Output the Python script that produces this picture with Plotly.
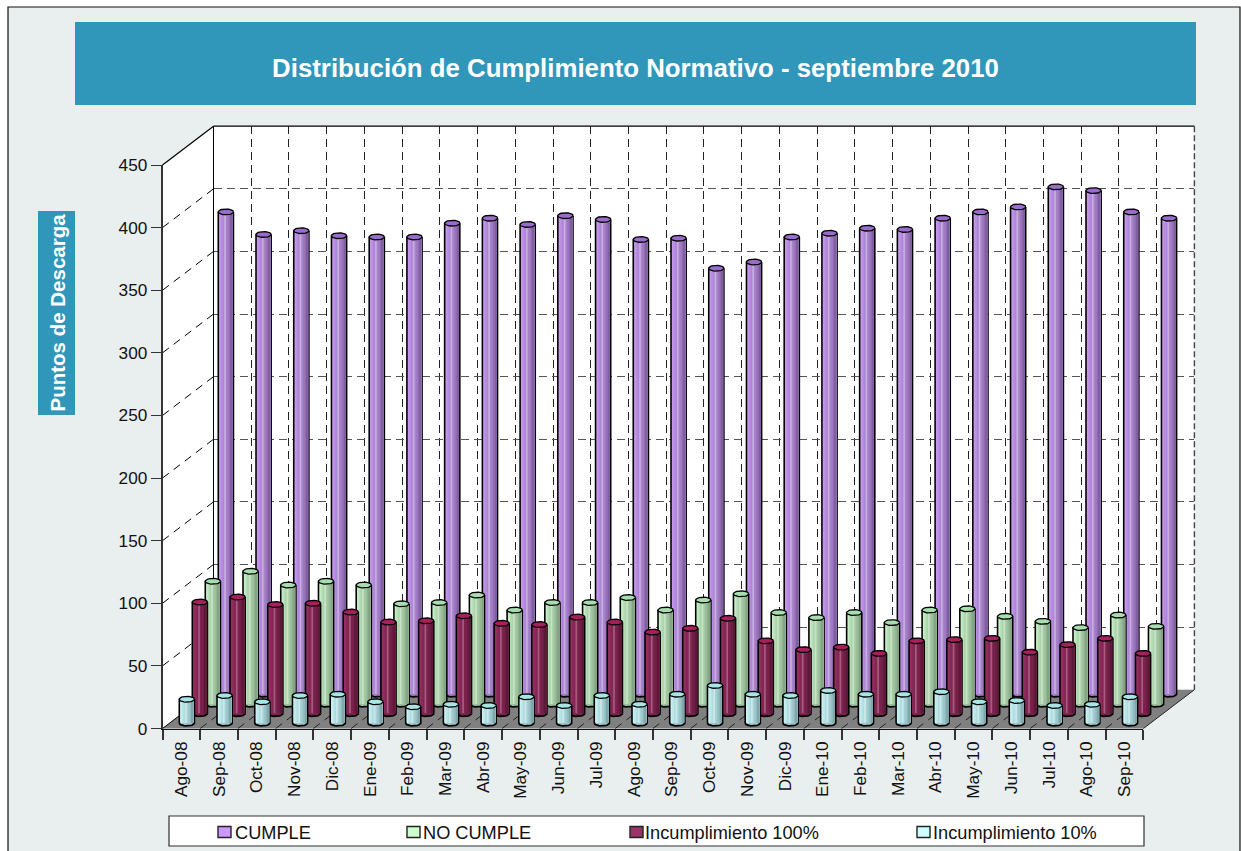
import numpy as np
import plotly.graph_objects as go

TITLE = "Distribución de Cumplimiento Normativo - septiembre 2010"
Y_TITLE = "Puntos de Descarga"
MONTHS = ["Ago-08", "Sep-08", "Oct-08", "Nov-08", "Dic-08", "Ene-09", "Feb-09", "Mar-09", "Abr-09",
          "May-09", "Jun-09", "Jul-09", "Ago-09", "Sep-09", "Oct-09", "Nov-09", "Dic-09", "Ene-10",
          "Feb-10", "Mar-10", "Abr-10", "May-10", "Jun-10", "Jul-10", "Ago-10", "Sep-10"]
CUMPLE = [385, 367, 370, 366, 365, 365, 376, 380, 375, 382, 379, 363, 364,
          340, 345, 365, 368, 372, 371, 380, 385, 389, 405, 402, 385, 380]
NO_CUMPLE = [98, 106, 95, 98, 95, 80, 81, 87, 75, 81, 81, 85, 75,
             83, 88, 73, 69, 73, 65, 75, 76, 70, 66, 61, 71, 62]
INC_100 = [89, 93, 87, 88, 81, 73, 74, 78, 72, 71, 77, 73, 65,
           68, 76, 58, 51, 53, 48, 58, 59, 60, 49, 55, 60, 48]
INC_10 = [19, 22, 17, 22, 23, 17, 13, 15, 14, 21, 14, 22, 15,
          23, 30, 23, 22, 26, 23, 23, 25, 17, 18, 14, 15, 21]

W, H = 1241, 851
BLUE = "#3097bb"
PANEL = "#e9eeee"


def px(x):
    return x / W


def py(y):
    return 1 - y / H


# plane geometry in pixels
FX0, FX1, FY0, FY1 = 162.5, 1143.4, 728.5, 165.0
DEPTH_X, DEPTH_Y = 51.0, 38.8
YMAX = 450
SCALE = (FY0 - FY1) / YMAX
PAD = 4  # axis units kept below zero so the rounded feet stay inside the plot area

SERIES = [
    dict(name="CUMPLE", vals=CUMPLE, dx=44.5, base=694.0, swatch="#cc99ff", top="#9a6ccc",
         strips=["#c496ec", "#b98ee2", "#ae86d6", "#c6aede", "#a982cc", "#9e78c0", "#8f6cb0", "#80609f"]),
    dict(name="NO CUMPLE", vals=NO_CUMPLE, dx=31.5, base=704.0, swatch="#ccffcc", top="#a6deae",
         strips=["#c6eec6", "#b8e0b8", "#acd4ac", "#c8e2c8", "#a4cba4", "#9cc09c", "#90b290", "#84a484"]),
    dict(name="Incumplimiento 100%", vals=INC_100, dx=18.5, base=713.5, swatch="#993366", top="#a81f5e",
         strips=["#93305f", "#8a2a59", "#822653", "#a55c7e", "#7c244e", "#742148", "#6a1d42", "#5e193a"]),
    dict(name="Incumplimiento 10%", vals=INC_10, dx=5.5, base=723.0, swatch="#ccffff", top="#a8e6e6",
         strips=["#c8f0f2", "#bce6e8", "#b0dce0", "#cce8ea", "#a6d2d6", "#9cc6ca", "#8eb8bc", "#80a8ac"]),
]

fig = go.Figure()
idx = np.arange(len(MONTHS))


def axis_pair(n, dx, base, pad=0):
    s = "" if n == 1 else str(n)
    xa = dict(domain=[px(FX0 + dx), px(FX1 + dx)], anchor="y" + s, range=[-0.5, len(MONTHS) - 0.5],
              visible=False, fixedrange=True)
    ya = dict(domain=[py(base + pad * SCALE), py(base - YMAX * SCALE)], anchor="x" + s, range=[-pad, YMAX],
              visible=False, fixedrange=True)
    return "xaxis" + s, xa, "yaxis" + s, ya, "x" + s, "y" + s


layout_axes = {}

# back wall subplot: grid drawn by the axes
k1, xa, k2, ya, xr, yr = axis_pair(1, DEPTH_X, FY0 - DEPTH_Y)
GRID_X = dict(visible=True, showticklabels=False, ticks="", showline=False, zeroline=False, showgrid=True,
              tick0=-0.5, dtick=1, gridcolor="#222222", griddash="8px,5px", gridwidth=1.2)
GRID_Y = dict(visible=True, showticklabels=False, ticks="", showline=False, zeroline=False, showgrid=True,
              tick0=0, dtick=50, gridcolor="#555555", griddash="8px,5px", gridwidth=1.4)
xa.update(GRID_X)
ya.update(GRID_Y)
layout_axes[k1], layout_axes[k2] = xa, ya
fig.add_trace(go.Scatter(x=idx, y=[0] * len(idx), xaxis=xr, yaxis=yr, mode="markers",
                         marker=dict(opacity=0), showlegend=False, hoverinfo="skip"))

HALF = 0.222   # outer half width of a cylinder, in categories
INNER = 0.180  # half width of the filled part
EH = 2.3       # half height of the end ellipses, in axis units
t_full = np.linspace(0, 2 * np.pi, 33)
t_half = np.linspace(np.pi, 2 * np.pi, 17)

for n, s in enumerate(SERIES, start=2):
    k1, xa, k2, ya, xr, yr = axis_pair(n, s["dx"], s["base"], PAD)
    layout_axes[k1], layout_axes[k2] = xa, ya
    common = dict(xaxis=xr, yaxis=yr, showlegend=False, hoverinfo="skip")
    # black silhouette
    fig.add_trace(go.Bar(x=idx, y=s["vals"], width=2 * HALF, offset=-HALF, marker=dict(color="#000000", line_width=0),
                         name=s["name"], **common))
    # shaded body, painted left to right
    edges = np.linspace(-INNER, INNER, len(s["strips"]) + 1)
    for e, c in zip(edges[:-1], s["strips"]):
        fig.add_trace(go.Bar(x=idx, y=s["vals"], width=INNER - e, offset=e, marker=dict(color=c, line_width=0), **common))
    # lower rim and top face
    bx, by, tx, ty = [], [], [], []
    for i, v in zip(idx, s["vals"]):
        bx += list(i + (HALF - 0.02) * np.cos(t_half)) + [None]
        by += list(EH * np.sin(t_half)) + [None]
        tx += list(i + (HALF - 0.02) * np.cos(t_full)) + [None]
        ty += list(v + EH * np.sin(t_full)) + [None]
    fig.add_trace(go.Scatter(x=bx, y=by, mode="lines", fill="toself", fillcolor=s["strips"][-3],
                             line=dict(color="#000000", width=1.8), **common))
    fig.add_trace(go.Scatter(x=tx, y=ty, mode="lines", fill="toself", fillcolor=s["top"],
                             line=dict(color="#000000", width=1.3), cliponaxis=False, **common))

# front plane: the visible axes
TICK_FONT = dict(family="Liberation Sans", size=17.2, color="#111111")
k1, xa, k2, ya, xr, yr = axis_pair(6, 0, FY0)
xa.update(visible=True, type="category", tickson="boundaries", categoryorder="array", categoryarray=MONTHS,
          dtick=1, tickangle=-90, ticks="outside", ticklen=10, tickwidth=1.5, tickcolor="#333333",
          showline=True, linecolor="#111111", linewidth=1.3, showgrid=False, zeroline=False,
          ticklabelstandoff=5, tickfont=TICK_FONT)
ya.update(visible=True, tick0=0, dtick=50, ticks="outside", ticklen=10, tickwidth=1.3, tickcolor="#333333",
          showline=True, linecolor="#333333", linewidth=1.5, showgrid=False, zeroline=False,
          tickfont=TICK_FONT)
layout_axes[k1], layout_axes[k2] = xa, ya
fig.add_trace(go.Scatter(x=MONTHS, y=[0] * len(MONTHS), xaxis=xr, yaxis=yr, mode="markers",
                         marker=dict(opacity=0), showlegend=False, hoverinfo="skip"))


def poly(points, **kw):
    path = "M " + " L ".join(f"{px(x):.5f},{py(y):.5f}" for x, y in points) + " Z"
    return dict(type="path", xref="paper", yref="paper", path=path, layer="below", **kw)


def rect(x0, y0, x1, y1, fill, line=None, lw=0):
    return dict(type="rect", xref="paper", yref="paper", x0=px(x0), x1=px(x1), y0=py(y0), y1=py(y1),
                fillcolor=fill, line=dict(color=line or fill, width=lw), layer="below")


def seg(x0, y0, x1, y1, color="#000000", width=1.0, dash="solid"):
    return dict(type="line", xref="paper", yref="paper", x0=px(x0), x1=px(x1), y0=py(y0), y1=py(y1),
                line=dict(color=color, width=width, dash=dash), layer="below")


BX0, BX1 = FX0 + DEPTH_X, FX1 + DEPTH_X
BY0, BY1 = FY0 - DEPTH_Y, FY1 - DEPTH_Y
shapes = [
    rect(8, 7, 1240, 860, PANEL, "#111111", 1.2),
    rect(75, 22, 1196, 105, BLUE),
    rect(38, 211, 75, 415, BLUE),
    rect(BX0, BY1, BX1, BY0, "#ffffff"),
    poly([(FX0, FY1), (BX0, BY1), (BX0, BY0), (FX0, FY0)], fillcolor="#ffffff", line_width=0),
    poly([(FX0, FY0), (FX1, FY0), (BX1, BY0), (BX0, BY0)], fillcolor="#808080", line_width=0),
    seg(FX0, FY1, BX0, BY1, width=1.2),
    seg(BX0, BY1, BX1, BY1, width=1.2),
    seg(BX0, BY1, BX0, BY0, width=1.0),
    seg(BX1, BY1, BX1, BY0, color="#444444", width=1.4, dash="6px,3px"),
    seg(FX1, FY0, BX1, BY0, color="#222222", width=1.0),
]
# left wall grid
for v in range(50, YMAX, 50):
    y = FY0 - SCALE * v
    shapes.append(seg(FX0, y, BX0, y - DEPTH_Y, width=1.0, dash="8px,6px"))
shapes.append(seg(FX0, FY0, BX0, BY0, width=1.0))
# floor grid
step = (FX1 - FX0) / len(MONTHS)
for i in range(1, len(MONTHS)):
    shapes.append(seg(FX0 + i * step, FY0, BX0 + i * step, BY0, color="#222222", width=1.0, dash="8px,6px"))

# legend panel
shapes.append(rect(169, 816, 1144, 846, "#ffffff", "#333333", 1.2))
annotations = []
LEG_POS = [(218, 233), (407, 421), (630, 643), (917, 931)]
for s, (sx, tx) in zip(SERIES, LEG_POS):
    shapes.append(rect(sx, 826.5, sx + 13, 837.5, s["swatch"], "#222222", 1.4))
    annotations.append(dict(text=s["name"], xref="paper", yref="paper", x=px(tx), y=py(833), xanchor="left",
                            yanchor="middle", showarrow=False,
                            font=dict(family="Liberation Sans", size=18.2, color="#111111")))
annotations.append(dict(text=f"<b>{Y_TITLE}</b>", xref="paper", yref="paper", x=px(56.5), y=py(313), textangle=-90,
                        xanchor="center", yanchor="middle", showarrow=False,
                        font=dict(family="Liberation Sans", size=20.5, color="#ffffff")))

fig.update_layout(
    width=W, height=H, margin=dict(l=0, r=0, t=0, b=0), template="none",
    paper_bgcolor="#ffffff", plot_bgcolor="rgba(0,0,0,0)", barmode="overlay", showlegend=False,
    title=dict(text=f"<b>{TITLE}</b>", x=px(635.5), y=py(68), xanchor="center", yanchor="middle", xref="paper", yref="paper",
               font=dict(family="Liberation Sans", size=25.8, color="#ffffff")),
    shapes=shapes, annotations=annotations, **layout_axes,
)

fig.write_html("out.html", config=dict(displayModeBar=False),
               post_script="document.body.style.margin='0';")
